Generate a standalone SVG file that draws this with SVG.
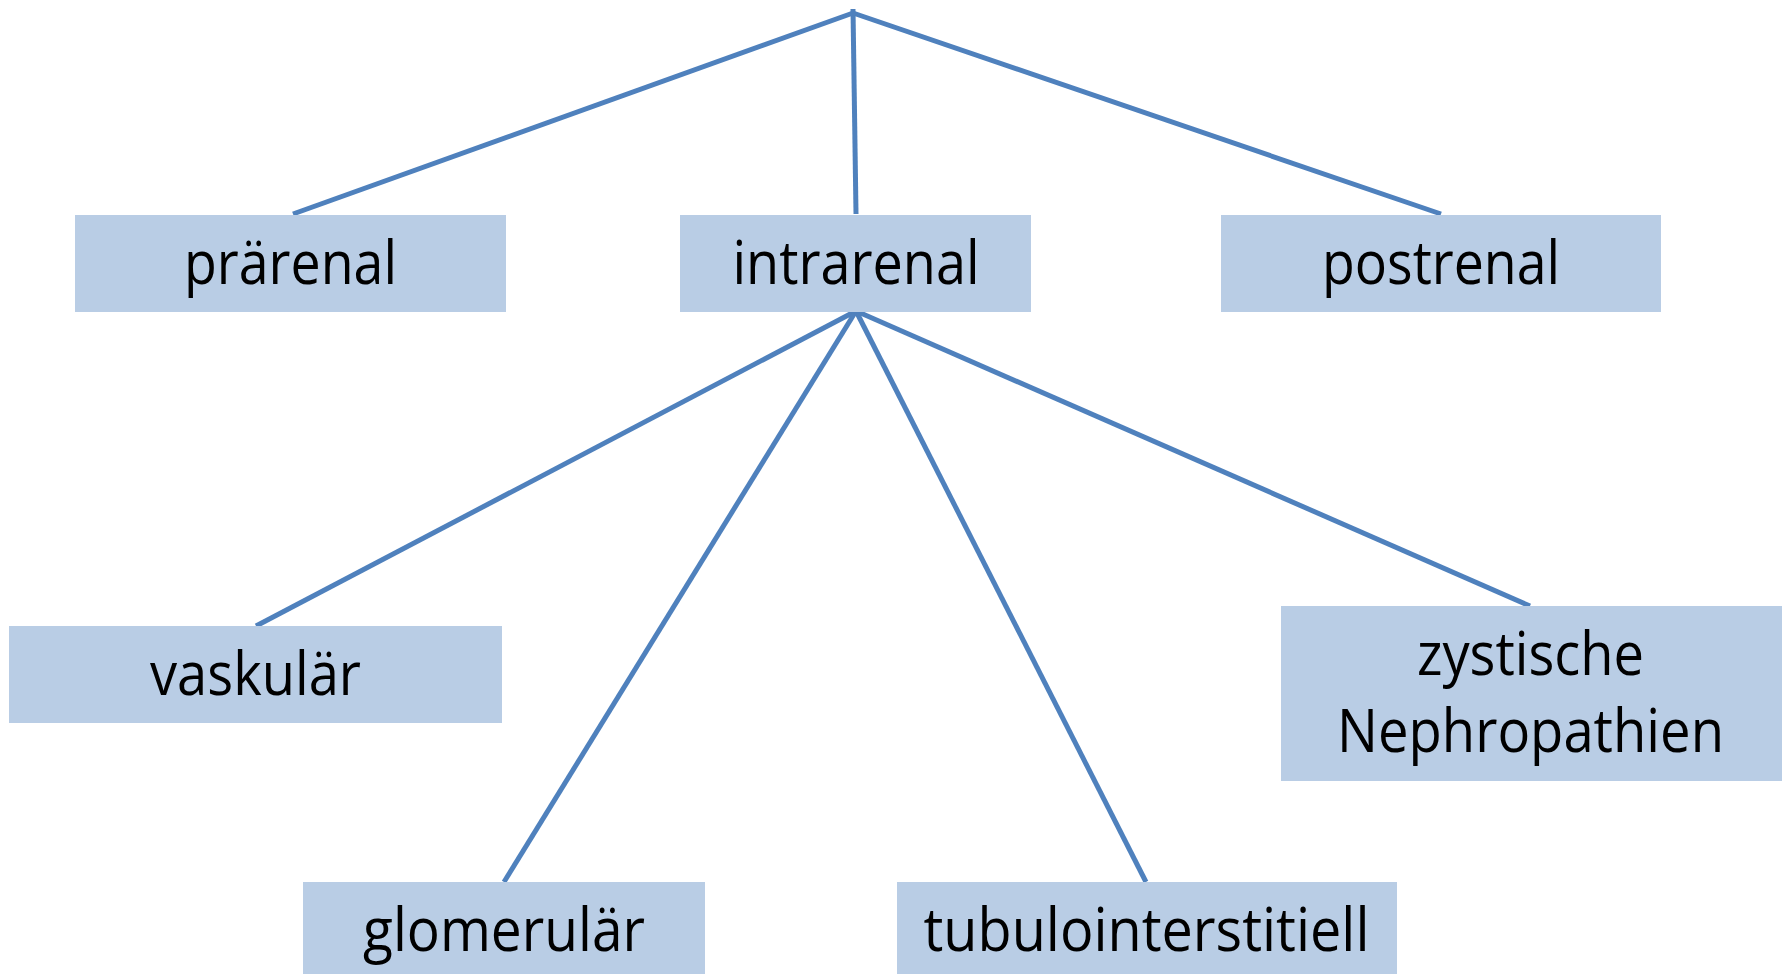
<svg xmlns="http://www.w3.org/2000/svg" width="1788" height="974" viewBox="0 0 1788 974">
<style>
.box{fill:#b9cde5}
.lbl{font-family:"Open Sans","Liberation Sans",sans-serif;font-size:60px;fill:#000;text-anchor:middle}
.conn line{stroke:#4f81bd;stroke-width:5;stroke-linecap:butt}
</style>
<rect width="1788" height="974" fill="#fff"/>
<g id="connectors" class="conn">
<line x1="853" y1="9" x2="856" y2="214"/>
<line x1="853" y1="13" x2="293" y2="214"/>
<line x1="853" y1="13" x2="1441" y2="214"/>
<line x1="856" y1="311" x2="256" y2="626"/>
<line x1="856" y1="311" x2="504" y2="882"/>
<line x1="856" y1="311" x2="1146" y2="882"/>
<line x1="856" y1="311" x2="1530" y2="606"/>
</g>
<g id="praerenal"><rect class="box" x="75" y="215" width="431" height="97"/><text class="lbl" x="290.5" y="284" textLength="213" lengthAdjust="spacingAndGlyphs">prärenal</text></g>
<g id="intrarenal"><rect class="box" x="680" y="215" width="351" height="97"/><text class="lbl" x="856" y="284" textLength="247" lengthAdjust="spacingAndGlyphs">intrarenal</text></g>
<g id="postrenal"><rect class="box" x="1221" y="215" width="440" height="97"/><text class="lbl" x="1441" y="284" textLength="238" lengthAdjust="spacingAndGlyphs">postrenal</text></g>
<g id="vaskulaer"><rect class="box" x="9" y="626" width="493" height="97"/><text class="lbl" x="255.5" y="695" textLength="211" lengthAdjust="spacingAndGlyphs">vaskulär</text></g>
<g id="glomerulaer"><rect class="box" x="303" y="882" width="402" height="92"/><text class="lbl" x="504" y="951" textLength="282" lengthAdjust="spacingAndGlyphs">glomerulär</text></g>
<g id="tubulointerstitiell"><rect class="box" x="897" y="882" width="500" height="92"/><text class="lbl" x="1146.5" y="951" textLength="446" lengthAdjust="spacingAndGlyphs">tubulointerstitiell</text></g>
<g id="zystische"><rect class="box" x="1281" y="606" width="501" height="175"/><text class="lbl" x="1530.5" y="675" textLength="227" lengthAdjust="spacingAndGlyphs">zystische</text><text class="lbl" x="1530.5" y="752" textLength="387" lengthAdjust="spacingAndGlyphs">Nephropathien</text></g>
</svg>
